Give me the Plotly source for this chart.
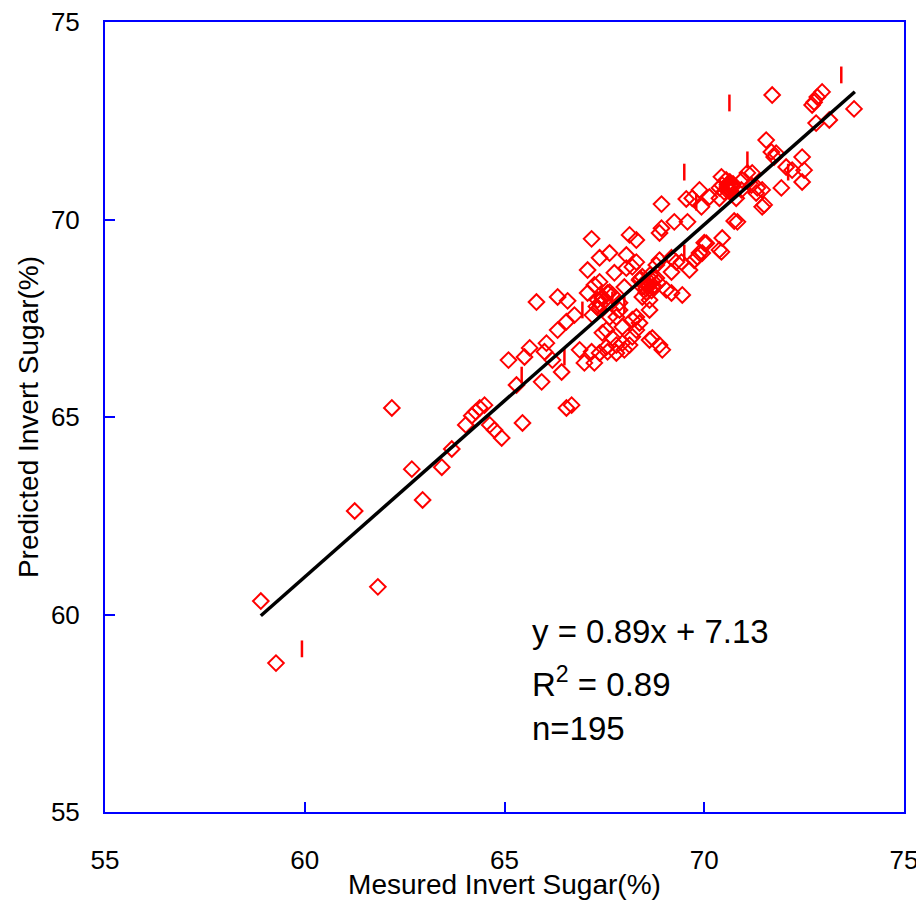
import plotly.graph_objects as go

# Measured vs predicted invert sugar (%), diamonds
measured = [
    58.90, 59.28, 61.25, 61.83, 62.18, 62.68, 62.95, 63.43, 63.68, 64.03,
    64.18, 64.28, 64.38, 64.50, 64.63, 64.75, 64.93, 65.10, 65.45, 65.30,
    65.50, 65.63, 65.80, 65.93, 66.00, 66.05, 66.20, 66.33, 66.33, 66.43,
    66.55, 66.55, 66.58, 66.68, 66.75, 66.88, 67.00, 67.08, 67.08, 67.18,
    67.18, 67.25, 67.25, 67.33, 67.38, 67.38, 67.38, 67.45, 67.55, 67.55,
    67.58, 67.58, 67.63, 67.63, 67.63, 67.70, 67.70, 67.75, 67.80, 67.80,
    67.80, 67.88, 67.88, 67.95, 67.95, 68.00, 68.00, 68.05, 68.05, 68.13,
    68.13, 68.20, 68.20, 68.20, 68.30, 68.30, 68.38, 68.38, 68.45, 68.45,
    68.55, 68.63, 68.63, 68.63, 68.70, 68.70, 68.80, 68.88, 68.88, 68.88,
    68.93, 68.93, 68.95, 69.05, 69.18, 69.18, 69.25, 69.30, 69.43, 69.45,
    69.55, 69.58, 69.63, 69.70, 69.75, 69.88, 69.88, 69.93, 69.95, 70.00,
    70.05, 70.13, 70.38, 70.38, 70.43, 70.43, 70.45, 70.45, 70.55, 70.58,
    70.63, 70.68, 70.50, 70.75, 70.80, 70.83, 70.93, 70.95, 71.08, 71.18,
    71.20, 71.30, 71.33, 71.45, 71.45, 71.50, 71.55, 71.68, 71.75, 71.80,
    71.70, 71.93, 72.05, 72.20, 72.45, 72.50, 72.45, 72.70, 72.75, 72.83,
    72.95, 72.80, 73.13, 73.75,
    68.30, 68.80, 69.18, 69.83, 70.38, 67.20, 67.45, 68.30, 68.63,
    68.50, 68.60, 68.70, 68.75, 68.45, 68.55, 68.65, 68.85, 68.40, 68.68,
    70.60, 70.65, 70.62, 70.70, 70.58, 70.66, 70.72, 70.64,
    67.40, 67.50, 67.35, 67.45, 67.30,
]
predicted = [
    60.34, 58.77, 62.62, 60.70, 65.23, 63.68, 62.90, 63.73, 64.19, 64.80,
    65.03, 65.13, 65.23, 65.30, 64.80, 64.67, 64.47, 66.44, 64.85, 65.81,
    66.52, 66.75, 67.91, 65.89, 66.65, 66.87, 66.44, 68.04, 67.20, 66.14,
    67.41, 65.23, 67.94, 65.30, 67.58, 66.70, 66.37, 68.14, 68.72, 69.51,
    66.65, 66.37, 68.34, 67.96, 69.03, 68.42, 66.62, 68.04, 67.20, 66.77,
    68.14, 66.65, 69.15, 68.16, 67.53, 67.00, 68.09, 68.65, 67.53, 66.82,
    66.62, 67.89, 67.71, 67.28, 66.87, 68.29, 66.70, 69.10, 68.77, 66.82,
    69.61, 68.80, 67.46, 67.03, 69.48, 67.20, 68.47, 67.38, 68.29, 68.04,
    68.16, 68.42, 67.96, 67.71, 68.29, 67.00, 68.52, 69.66, 68.97, 66.82,
    69.78, 70.39, 66.70, 68.22, 68.67, 68.14, 69.94, 68.92, 68.92, 68.09,
    70.52, 69.94, 68.72, 70.54, 68.97, 69.15, 70.75, 70.32, 69.15, 69.41,
    69.40, 70.57, 70.80, 70.54, 71.08, 69.18, 70.87, 69.53, 71.00, 70.82,
    70.75, 70.87, 70.70, 69.96, 70.54, 69.94, 70.75, 71.00, 71.18, 70.87,
    71.18, 70.67, 70.80, 70.75, 70.32, 70.37, 72.01, 71.71, 71.58, 71.68,
    73.15, 70.80, 71.33, 71.25, 71.58, 71.25, 70.95, 72.90, 72.97, 73.10,
    73.23, 72.44, 72.52, 72.80,
    68.92, 68.85, 69.03, 69.05, 69.23, 67.58, 67.13, 67.53, 66.95,
    68.40, 68.35, 68.45, 68.30, 68.55, 68.25, 68.60, 68.40, 68.50, 68.20,
    70.80, 70.85, 70.76, 70.82, 70.88, 70.72, 70.90, 70.95,
    67.85, 67.95, 67.75, 68.00, 67.80,
]

# Points drawn as vertical bars
measured_bar = [59.93, 70.63, 73.43, 69.50, 71.08, 72.10, 65.43, 66.50, 66.95, 67.70, 69.50, 68.00, 69.80]
predicted_bar = [59.13, 72.95, 73.66, 71.20, 71.51, 71.20, 66.06, 66.52, 67.71, 67.96, 69.15, 67.84, 70.44]

# Regression line (as drawn)
fit_slope = 0.892
fit_intercept = 7.43
fit_x = [58.90, 73.77]
fit_y = [fit_slope * v + fit_intercept for v in fit_x]

x_ticks = [55, 60, 65, 70, 75]
y_ticks = [55, 60, 65, 70, 75]

font_family = "Liberation Sans, Arial, sans-serif"

fig = go.Figure()
fig.add_trace(go.Scatter(
    x=measured, y=predicted, mode="markers",
    marker=dict(symbol="diamond-open", size=12, color="#ff0000",
                line=dict(color="#ff0000", width=2)),
    showlegend=False, hoverinfo="skip"))
fig.add_trace(go.Scatter(
    x=measured_bar, y=predicted_bar, mode="markers",
    marker=dict(symbol="line-ns-open", size=12, color="#ff0000",
                line=dict(color="#ff0000", width=2.5)),
    showlegend=False, hoverinfo="skip"))
fig.add_trace(go.Scatter(
    x=fit_x, y=fit_y, mode="lines",
    line=dict(color="black", width=3.5),
    showlegend=False, hoverinfo="skip"))

axis_common = dict(
    showgrid=False, zeroline=False,
    showline=True, linecolor="#0000ff", linewidth=2, mirror=True,
    ticks="inside", ticklen=10, tickwidth=2, tickcolor="#0000ff",
    tickfont=dict(family=font_family, size=26, color="black"),
    ticklabeloverflow="allow",
)

fig.update_xaxes(
    range=[55, 75], tickvals=x_ticks, ticktext=[str(t) for t in x_ticks],
    ticklabelstandoff=24,
    title=dict(text="Mesured Invert Sugar(%)", standoff=0,
               font=dict(family=font_family, size=28, color="black")),
    **axis_common)
fig.update_yaxes(
    range=[55, 75], tickvals=y_ticks, ticktext=[str(t) for t in y_ticks],
    ticklabelstandoff=18,
    title=dict(text="Predicted Invert Sugar(%)", standoff=4,
               font=dict(family=font_family, size=28, color="black")),
    **axis_common)

ann_font = dict(family=font_family, size=33, color="black")
for text, ypos in [("y = 0.89x + 7.13", 0.228),
                   ("R<sup>2</sup> = 0.89", 0.165),
                   ("n=195", 0.106)]:
    fig.add_annotation(text=text, xref="paper", yref="paper", x=0.532, y=ypos,
                       xanchor="left", yanchor="middle", showarrow=False,
                       font=ann_font)

fig.update_layout(
    width=916, height=892,
    margin=dict(l=97, r=20, t=14, b=88, autoexpand=False),
    paper_bgcolor="white", plot_bgcolor="white",
)

fig.write_html("out.html")
